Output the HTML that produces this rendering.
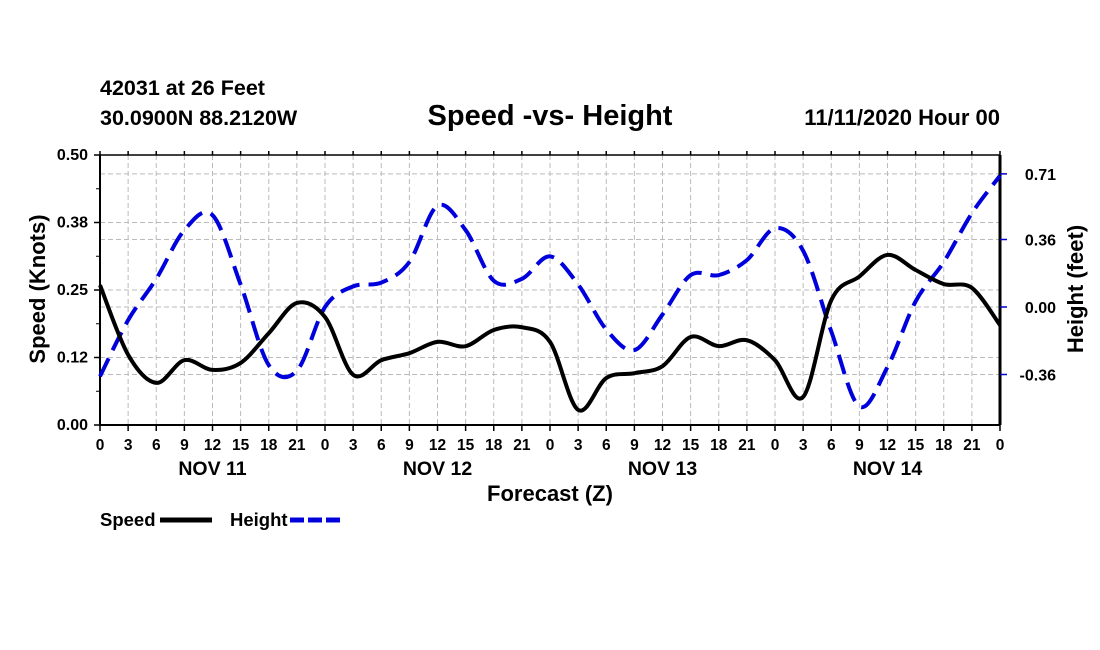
<!DOCTYPE html>
<html><head><meta charset="utf-8"><style>
body{margin:0;background:#fff;}
svg{display:block;font-family:"Liberation Sans",Arial,sans-serif;font-weight:bold;}
</style></head><body>
<svg id="chart" width="1100" height="650" viewBox="0 0 1100 650">
<text x="100" y="95" font-size="21.5">42031 at 26 Feet</text>
<text x="100" y="125" font-size="21.5">30.0900N 88.2120W</text>
<text x="550" y="125" font-size="29" text-anchor="middle">Speed -vs- Height</text>
<text x="1000" y="125" font-size="22" text-anchor="end">11/11/2020 Hour 00</text>
<g id="grid"></g>
<g id="axes"></g>
<g id="series"></g>
<text transform="translate(45,289) rotate(-90)" font-size="22" text-anchor="middle">Speed (Knots)</text>
<text transform="translate(1083,289) rotate(-90)" font-size="22" text-anchor="middle">Height (feet)</text>
<text x="550" y="501" font-size="22" text-anchor="middle">Forecast (Z)</text>
<g>
<text x="100" y="526" font-size="18.5">Speed</text>
<line x1="160" y1="520" x2="212" y2="520" stroke="#000" stroke-width="5"/>
<text x="230" y="526" font-size="18.5">Height</text>
<line x1="290" y1="520" x2="342" y2="520" stroke="#0000dd" stroke-width="5" stroke-dasharray="14,4"/>
</g>
</svg>
<script>
const hours = [0,3,6,9,12,15,18,21,24,27,30,33,36,39,42,45,48,51,54,57,60,63,66,69,72,75,78,81,84,87,90,93,96];
const speedValues = [0.259,0.13,0.078,0.12,0.102,0.115,0.17,0.226,0.2,0.093,0.12,0.133,0.154,0.146,0.176,0.181,0.154,0.028,0.087,0.096,0.109,0.163,0.146,0.157,0.12,0.052,0.231,0.275,0.315,0.287,0.261,0.254,0.185];
const heightValues = [-0.37,-0.07,0.15,0.41,0.49,0.12,-0.31,-0.34,0.0,0.11,0.13,0.24,0.54,0.41,0.14,0.15,0.27,0.12,-0.12,-0.23,-0.04,0.17,0.17,0.25,0.42,0.30,-0.13,-0.53,-0.32,0.03,0.24,0.5,0.7];
const speedTicks = [0,0.125,0.25,0.375,0.5];
const speedTickLabels = ["0.00","0.12","0.25","0.38","0.50"];
const heightTicks = [-0.36,0,0.36,0.71];
const heightTickLabels = ["-0.36","0.00","0.36","0.71"];
const xTickLabels = ["0","3","6","9","12","15","18","21"];
const dayLabels = ["NOV 11","NOV 12","NOV 13","NOV 14"];

const NS="http://www.w3.org/2000/svg";
const X0=100,X1=1000,YT=155,YB=425;
const xs=h=>X0+(h/96)*(X1-X0);
const ys=v=>YB-(v/0.5)*(YB-YT);
const yh=v=>307-v*187.5;
function mk(tag,attrs,parent){const e=document.createElementNS(NS,tag);for(const k in attrs)e.setAttribute(k,attrs[k]);parent.appendChild(e);return e;}
const grid=document.getElementById('grid'),axes=document.getElementById('axes'),series=document.getElementById('series');
for(let h=3;h<96;h+=3){const l=mk('line',{x1:xs(h),x2:xs(h),y1:YT,y2:YB,stroke:'#bbb','stroke-width':1,'stroke-dasharray':'5,3'},grid);

}
speedTicks.slice(1,-1).forEach(v=>{const l=mk('line',{x1:X0,x2:X1,y1:ys(v),y2:ys(v),stroke:'#bbb','stroke-width':1,'stroke-dasharray':'5,3'},grid);

});
heightTicks.forEach(v=>{const l=mk('line',{x1:X0,x2:X1,y1:yh(v),y2:yh(v),stroke:'#bbb','stroke-width':1,'stroke-dasharray':'5,3'},grid);

});
mk('line',{x1:X0,x2:X1,y1:YT,y2:YT,stroke:'#000','stroke-width':1.5},axes);
mk('line',{x1:X0,x2:X1,y1:YB,y2:YB,stroke:'#000','stroke-width':2},axes);
mk('line',{x1:X0,x2:X0,y1:YT,y2:YB,stroke:'#000','stroke-width':2},axes);
mk('line',{x1:X1,x2:X1,y1:YT,y2:YB,stroke:'#000','stroke-width':3},axes);
speedTicks.forEach((v,i)=>{mk('line',{x1:X0-6,x2:X0,y1:ys(v),y2:ys(v),stroke:'#000','stroke-width':1.5},axes);
const t=mk('text',{x:X0-12,y:ys(v)+5,'font-size':16,'text-anchor':'end'},axes);t.textContent=speedTickLabels[i];

});
for(let v=0.0625;v<0.5;v+=0.125){mk('line',{x1:X0-4,x2:X0,y1:ys(v),y2:ys(v),stroke:'#000','stroke-width':1},axes);}
heightTicks.forEach((v,i)=>{mk('line',{x1:X1,x2:X1+7,y1:yh(v),y2:yh(v),stroke:'#00c','stroke-width':1.5},axes);
const t=mk('text',{x:1056,y:yh(v)+6,'font-size':16,'text-anchor':'end'},axes);t.textContent=heightTickLabels[i];

});
for(let h=0;h<=96;h+=3){const x=xs(h);mk('line',{x1:x,x2:x,y1:YB,y2:YB+6,stroke:'#000','stroke-width':1.5},axes);
mk('line',{x1:x,x2:x,y1:YT,y2:YT-4,stroke:'#000','stroke-width':1.5},axes);
const t=mk('text',{x:x,y:450,'font-size':15.5,'text-anchor':'middle'},axes);t.textContent=h===96?"0":xTickLabels[(h/3)%8];

}
dayLabels.forEach((d,i)=>{const t=mk('text',{x:xs(i*24+12),y:475,'font-size':19.5,'text-anchor':'middle'},axes);t.textContent=d;

});
function smooth(pts){let d=`M${pts[0][0]},${pts[0][1]}`;
for(let i=0;i<pts.length-1;i++){const p0=pts[i-1]||pts[i],p1=pts[i],p2=pts[i+1],p3=pts[i+2]||p2;
d+=` C${p1[0]+(p2[0]-p0[0])/6},${p1[1]+(p2[1]-p0[1])/6} ${p2[0]-(p3[0]-p1[0])/6},${p2[1]-(p3[1]-p1[1])/6} ${p2[0]},${p2[1]}`;}return d;}
const hp=mk('path',{d:smooth(hours.map((h,i)=>[xs(h),yh(heightValues[i])])),fill:'none',stroke:'#0000dd','stroke-width':4,'stroke-dasharray':'20,9'},series);


const sp=mk('path',{d:smooth(hours.map((h,i)=>[xs(h),ys(speedValues[i])])),fill:'none',stroke:'#000','stroke-width':4},series);


</script>
</body></html>
